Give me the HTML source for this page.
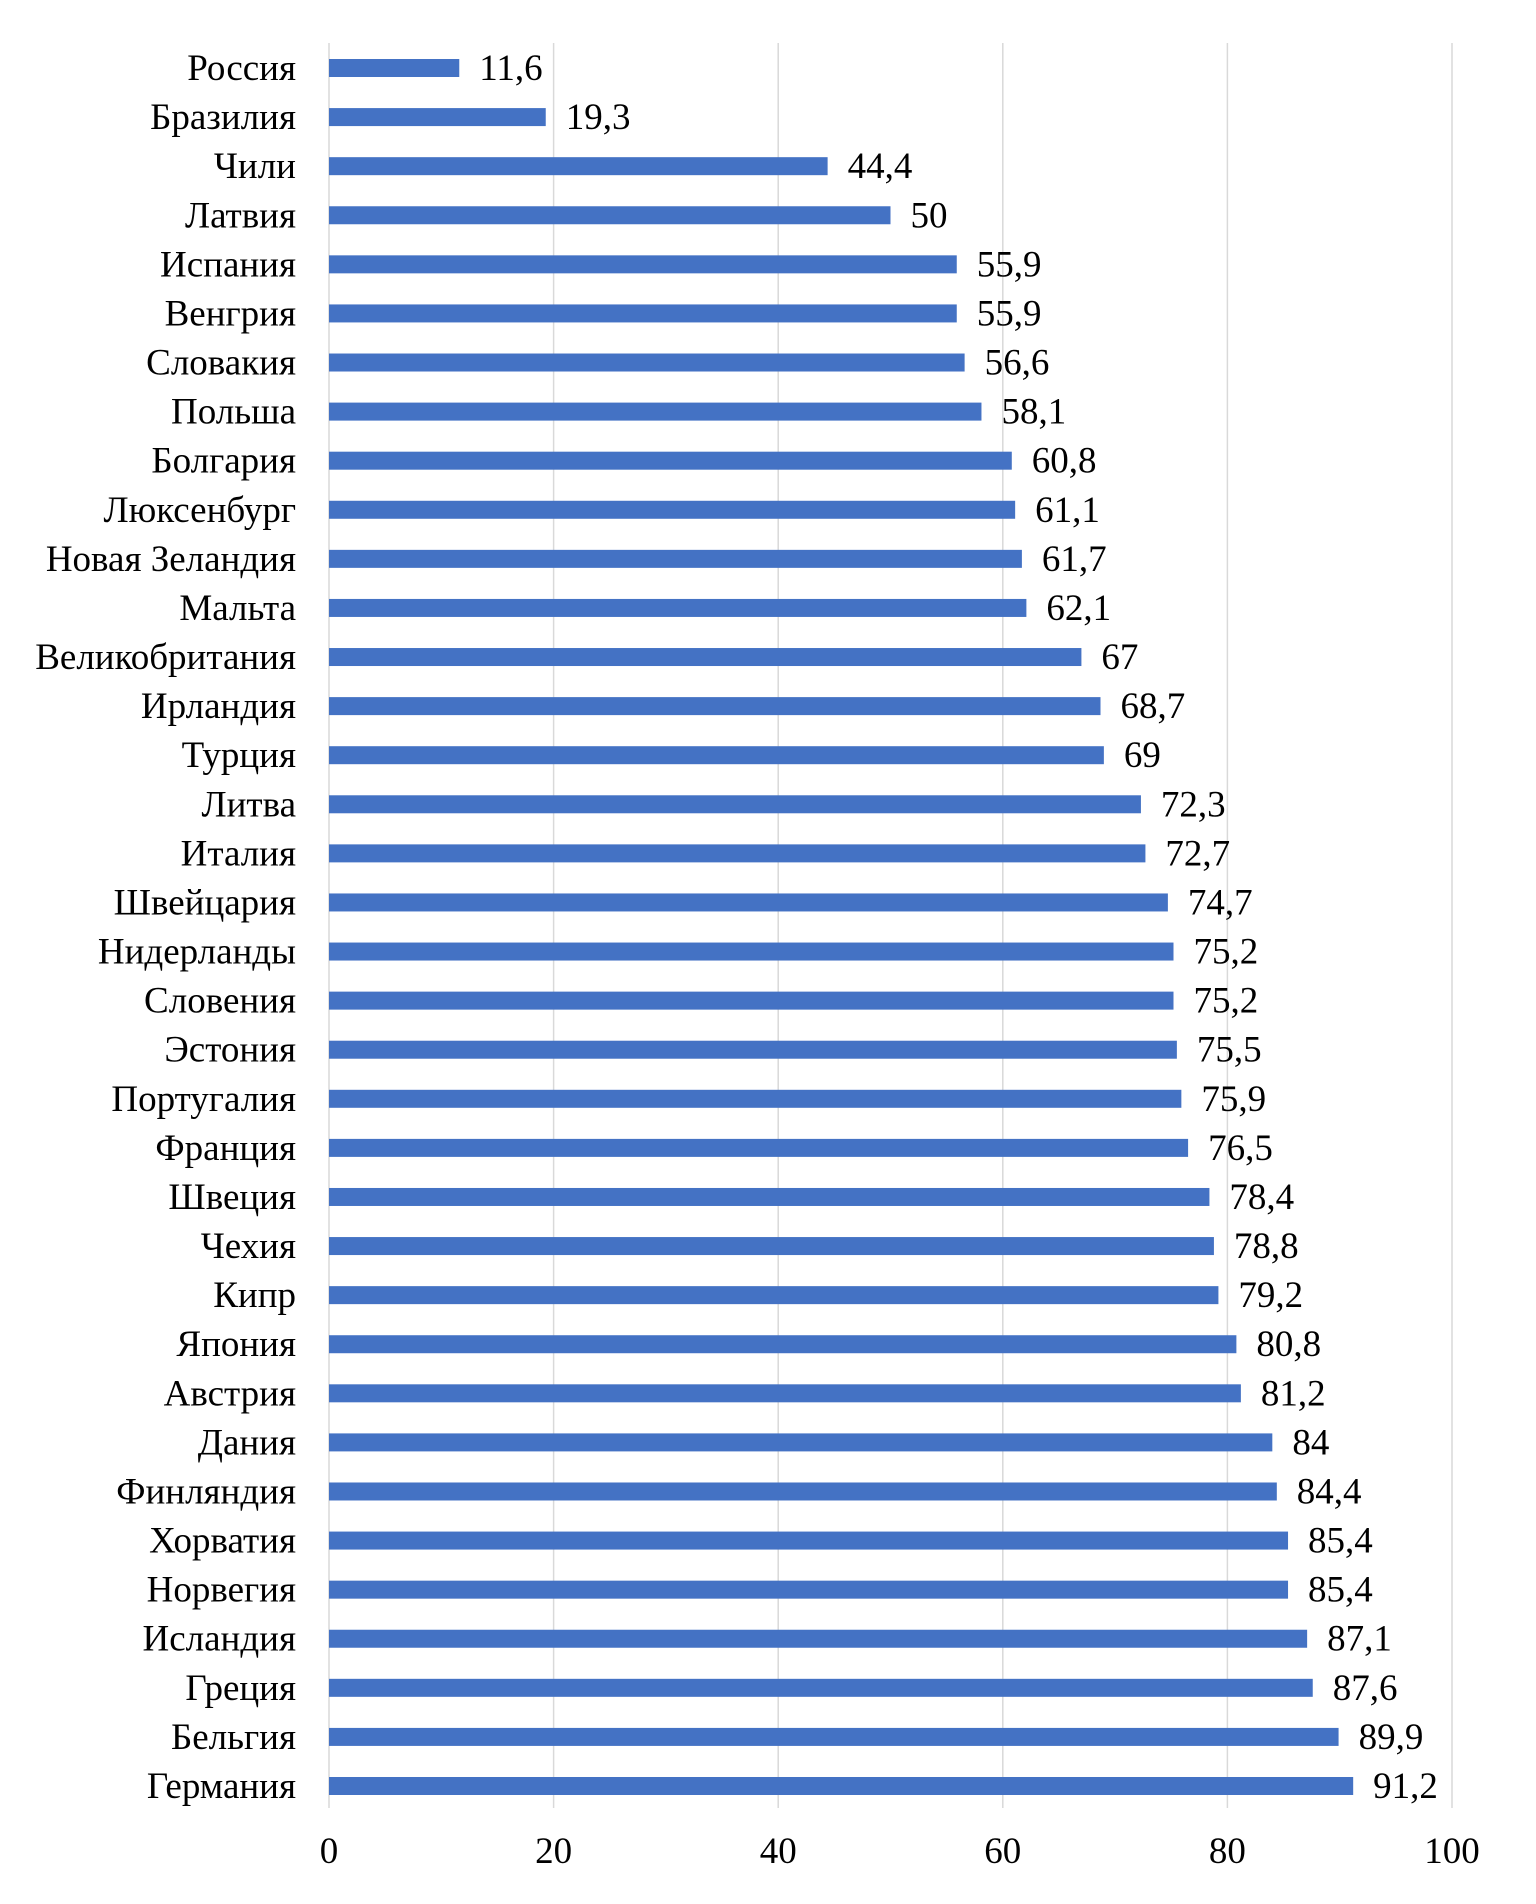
<!DOCTYPE html>
<html><head><meta charset="utf-8"><style>
body{margin:0;background:#fff}
svg{display:block}
text{font-family:"Liberation Serif",serif;font-size:37px;fill:#000}
</style></head><body>
<svg id="chart" width="1536" height="1904" viewBox="0 0 1536 1904"></svg>
<script>
const categories=["Россия","Бразилия","Чили","Латвия","Испания","Венгрия","Словакия","Польша","Болгария","Люксенбург","Новая Зеландия","Мальта","Великобритания","Ирландия","Турция","Литва","Италия","Швейцария","Нидерланды","Словения","Эстония","Португалия","Франция","Швеция","Чехия","Кипр","Япония","Австрия","Дания","Финляндия","Хорватия","Норвегия","Исландия","Греция","Бельгия","Германия"];
const values=[11.6,19.3,44.4,50,55.9,55.9,56.6,58.1,60.8,61.1,61.7,62.1,67,68.7,69,72.3,72.7,74.7,75.2,75.2,75.5,75.9,76.5,78.4,78.8,79.2,80.8,81.2,84,84.4,85.4,85.4,87.1,87.6,89.9,91.2];
const ticks=[0,20,40,60,80,100];
const NS="http://www.w3.org/2000/svg";
const svg=document.getElementById('chart');
const x0=329,x1=1452,yTop=43,yBot=1808,firstY=68,lastY=1786;
const xs=v=>x0+(x1-x0)*v/100;
const step=(lastY-firstY)/(categories.length-1);
const ys=i=>firstY+i*step;
function mk(t,a){const e=document.createElementNS(NS,t);for(const k in a)e.setAttribute(k,a[k]);svg.appendChild(e);return e;}
ticks.forEach(t=>{
  const g=mk('line',{x1:xs(t),x2:xs(t),y1:yTop,y2:yBot,stroke:'#d9d9d9','stroke-width':1.5});
  
  
  const l=mk('text',{x:xs(t),y:1863,'text-anchor':'middle'});l.textContent=t;
  
  
});
categories.forEach((c,i)=>{
  const y=ys(i);
  const b=mk('rect',{x:x0,y:y-9,width:xs(values[i])-x0,height:18,fill:'#4472c4'});
  
  
  const l=mk('text',{x:296,y:y+12,'text-anchor':'end'});l.textContent=c;
  
  
  const v=mk('text',{x:xs(values[i])+20,y:y+12});v.textContent=String(values[i]).replace('.',',');
  
  
});
</script>
</body></html>
